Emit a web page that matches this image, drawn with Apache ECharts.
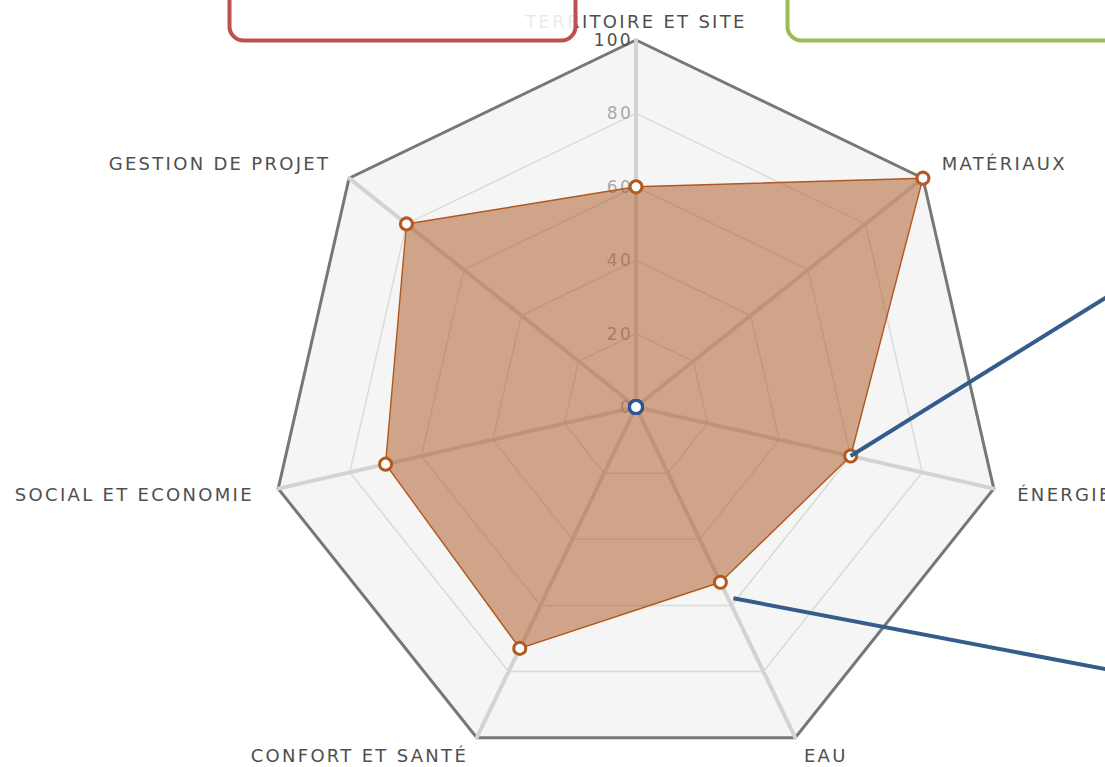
<!DOCTYPE html>
<html>
<head>
<meta charset="utf-8">
<script src="https://cdn.jsdelivr.net/npm/echarts@6/dist/echarts.min.js"></script>
<style>
html, body { margin: 0; padding: 0; background: #ffffff; }
#chart { width: 1105px; height: 767px; }
#chart text { letter-spacing: 2.3px; }
</style>
</head>
<body>
<div id="chart"></div>
<script>
// Radar axes, listed counter-clockwise from the top
const indicatorNames = ['TERRITOIRE ET SITE', 'GESTION DE PROJET', 'SOCIAL ET ECONOMIE', 'CONFORT ET SANTÉ', 'EAU', 'ÉNERGIE', 'MATÉRIAUX'];
const scores = [60, 80, 70, 73, 53, 60, 100];
const origin = [0, 0, 0, 0, 0, 0, 0];
const scaleMin = 0;
const scaleMax = 100;
const ringCount = 5;

const FONT = 'DejaVu Sans';
const chart = echarts.init(document.getElementById('chart'), null, { renderer: 'svg' });

const center = [636, 407];
const radius = 367;
// distance between each polygon corner and its caption
const nameGaps = [10, 24, 25, 20, 20, 24, 24];

const mainIndicators = indicatorNames.map((name, i) => {
  const ind = { name: name, min: scaleMin, max: scaleMax, nameGap: nameGaps[i] };
  if (i === 0) {
    ind.axisLabel = {
      show: true,
      color: '#a8a8a8',
      fontFamily: FONT,
      fontSize: 17,
      margin: 3,
      formatter: v => (v === scaleMax ? '{top|' + v + '}' : String(v)),
      rich: { top: { color: '#4f4f4f', fontFamily: FONT, fontSize: 17 } }
    };
  }
  return ind;
});

const outlineIndicators = indicatorNames.map(name => ({ name: name, min: scaleMin, max: scaleMax }));

chart.setOption({
  animation: false,
  backgroundColor: '#ffffff',
  radar: [
    {
      center: center,
      radius: radius,
      startAngle: 90,
      shape: 'polygon',
      splitNumber: ringCount,
      indicator: mainIndicators,
      nameGap: 20,
      axisName: { color: '#4f4f4f', fontFamily: FONT, fontSize: 18 },
      splitArea: { show: true, areaStyle: { color: ['#f5f5f5'] } },
      splitLine: { lineStyle: { color: '#dadada', width: 1.5 } },
      axisLine: { lineStyle: { color: '#d3d3d3', width: 4 } },
      axisTick: { show: false },
      axisLabel: { show: false }
    },
    {
      // heavy outer border
      center: center,
      radius: radius,
      startAngle: 90,
      shape: 'polygon',
      splitNumber: 1,
      indicator: outlineIndicators,
      axisName: { show: false },
      splitArea: { show: false },
      splitLine: { lineStyle: { color: '#777777', width: 3 } },
      axisLine: { show: false },
      axisTick: { show: false },
      axisLabel: { show: false }
    }
  ],
  series: [
    {
      type: 'radar',
      radarIndex: 0,
      z: 3,
      symbol: 'circle',
      symbolSize: 12,
      data: [{
        value: scores,
        lineStyle: { color: '#b35a22', width: 1.4 },
        areaStyle: { color: 'rgb(169, 83, 29)', opacity: 0.5 },
        itemStyle: { color: '#ffffff', borderColor: '#b35a22', borderWidth: 3 }
      }]
    },
    {
      type: 'radar',
      radarIndex: 0,
      z: 4,
      symbol: 'circle',
      symbolSize: 13,
      data: [{
        value: origin,
        lineStyle: { width: 0 },
        itemStyle: { color: '#ffffff', borderColor: '#2f5590', borderWidth: 3 }
      }]
    }
  ]
});

// Callout leaders start at the plotted points
const radarCS = chart.getModel().getComponent('radar', 0).coordinateSystem;
const energyPt = radarCS.dataToPoint(scores[5], 5);
const waterPt = radarCS.dataToPoint(scores[4], 4);

chart.setOption({
  graphic: [
    {
      type: 'line', z: 50, silent: true,
      shape: { x1: energyPt[0], y1: energyPt[1], x2: 1110, y2: 295 },
      style: { stroke: '#365c8c', lineWidth: 4 }
    },
    {
      type: 'line', z: 50, silent: true,
      shape: { x1: waterPt[0] + 13, y1: waterPt[1] + 16, x2: 1110, y2: 670 },
      style: { stroke: '#365c8c', lineWidth: 4 }
    },
    {
      type: 'rect', z: 100, silent: true,
      shape: { x: 229.5, y: -40, width: 346, height: 80.5, r: 14 },
      style: { fill: 'rgba(255,255,255,0.88)', stroke: '#c0504d', lineWidth: 4 }
    },
    {
      type: 'rect', z: 100, silent: true,
      shape: { x: 787.5, y: -40, width: 400, height: 80.5, r: 14 },
      style: { fill: 'rgba(255,255,255,0.88)', stroke: '#9bbb59', lineWidth: 4 }
    }
  ]
});
</script>
</body>
</html>
